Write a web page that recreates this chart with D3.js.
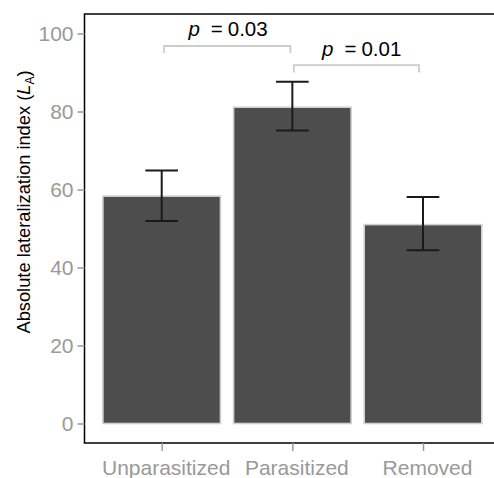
<!DOCTYPE html>
<html><head><meta charset="utf-8">
<script src="https://cdn.jsdelivr.net/npm/d3@7"></script>
<style>body{margin:0;background:#fff}svg{display:block}text{font-family:"Liberation Sans",Arial,Helvetica,sans-serif}</style>
</head><body>
<script>
const categories = ["Unparasitized", "Parasitized", "Removed"];
const means = [58.3, 81.1, 51.0];
const errLow = [51.9, 75.1, 44.4];
const errHigh = [64.9, 87.6, 58.1];
const yTicks = [0, 20, 40, 60, 80, 100];
const brackets = [
  {from: 0, to: 1, top: 96.8, bottom: 95.0, label: "0.03", labelY: 99.3},
  {from: 1, to: 2, top: 91.9, bottom: 90.0, label: "0.01", labelY: 94.2}
];

const W = 494, H = 478;
const svg = d3.select("body").append("svg").attr("width", W).attr("height", H);
const panel = {left: 84.5, top: 14, bottom: 443};

const y = d3.scaleLinear().domain([-5, 105]).range([panel.bottom, panel.top]);
const x = d3.scalePoint().domain(categories).range([161.7, 423]);
const step = x.step();
const barW = step * 0.9;
const ebW = step * 0.25;

// bars
svg.append("g").selectAll("rect").data(categories).join("rect")
  .attr("x", d => x(d) - barW / 2)
  .attr("y", (d, i) => y(means[i]))
  .attr("width", barW)
  .attr("height", (d, i) => y(0) - y(means[i]))
  .attr("fill", "#4d4d4d")
  .attr("stroke", "#d0d0d0")
  .attr("stroke-width", 1.6);

// error bars
const eb = svg.append("g").attr("stroke", "#1a1a1a").attr("stroke-width", 2).attr("fill", "none");
categories.forEach((c, i) => {
  const cx = x(c);
  eb.append("line").attr("x1", cx).attr("x2", cx).attr("y1", y(errLow[i])).attr("y2", y(errHigh[i]));
  eb.append("line").attr("x1", cx - ebW / 2).attr("x2", cx + ebW / 2).attr("y1", y(errLow[i])).attr("y2", y(errLow[i]));
  eb.append("line").attr("x1", cx - ebW / 2).attr("x2", cx + ebW / 2).attr("y1", y(errHigh[i])).attr("y2", y(errHigh[i]));
});

// brackets
const br = svg.append("g");
brackets.forEach((b, k) => {
  const x1 = x(categories[b.from]) + (k === 0 ? 2.3 : 1.5);
  const x2 = x(categories[b.to]) - (k === 0 ? 2 : 4);
  br.append("path")
    .attr("d", `M${x1},${y(b.bottom)}V${y(b.top)}H${x2}V${y(b.bottom)}`)
    .attr("fill", "none").attr("stroke", "#cccccc").attr("stroke-width", 1.8);
  const t = br.append("text")
    .attr("x", (x(categories[b.from]) + x(categories[b.to])) / 2 + (k === 0 ? 1 : 4))
    .attr("y", y(b.labelY))
    .attr("text-anchor", "middle").attr("font-size", 20.5).attr("fill", "#000");
  t.append("tspan").attr("font-style", "italic").text("p");
  t.append("tspan").attr("dx", 11).text("=");
  t.append("tspan").attr("dx", 5).text(b.label);
});

// axes frame
const frame = svg.append("g").attr("stroke", "#000").attr("stroke-width", 1.5);
frame.append("line").attr("x1", panel.left).attr("x2", panel.left).attr("y1", panel.top).attr("y2", panel.bottom);
frame.append("line").attr("x1", panel.left - 0.75).attr("x2", W).attr("y1", panel.top).attr("y2", panel.top);
frame.append("line").attr("x1", panel.left - 0.75).attr("x2", W).attr("y1", panel.bottom).attr("y2", panel.bottom);

// y axis
const yAxis = svg.append("g").attr("transform", `translate(${panel.left},0)`)
  .call(d3.axisLeft(y).tickValues(yTicks).tickSize(7).tickPadding(4));
yAxis.select(".domain").remove();
yAxis.selectAll(".tick line").attr("stroke", "#999").attr("stroke-width", 1.5);
yAxis.selectAll(".tick text").attr("fill", "#999").attr("font-size", 21).attr("font-family", null);

// x axis
const xAxis = svg.append("g").attr("transform", `translate(0,${panel.bottom})`)
  .call(d3.axisBottom(x).tickSize(8).tickPadding(9));
xAxis.select(".domain").remove();
xAxis.selectAll(".tick line").attr("stroke", "#999").attr("stroke-width", 1.5);
xAxis.selectAll(".tick text").attr("fill", "#999").attr("font-size", 21).attr("font-family", null).attr("dx", 4);

// y label
const yl = svg.append("text").attr("transform", "translate(30,202) rotate(-90)")
  .attr("text-anchor", "middle").attr("font-size", 18.3).attr("fill", "#000");
yl.append("tspan").text("Absolute lateralization index (");
yl.append("tspan").attr("font-style", "italic").text("L");
yl.append("tspan").attr("font-size", 12).attr("dy", 4).text("A");
yl.append("tspan").attr("dy", -4).text(")");
</script>
</body></html>
